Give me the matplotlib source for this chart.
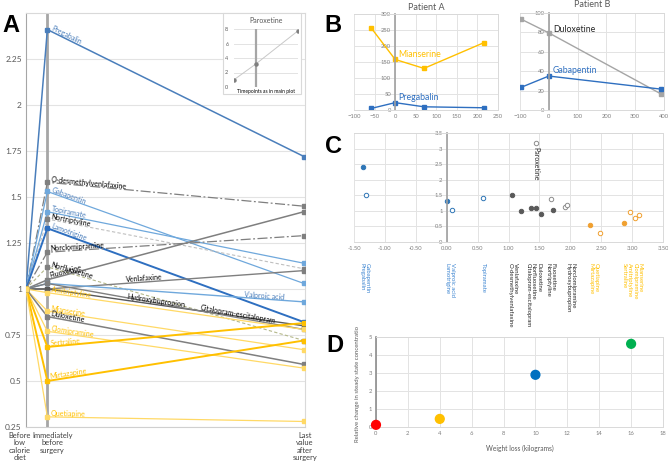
import numpy as np
import matplotlib
matplotlib.use('Agg')
import matplotlib.pyplot as plt
from matplotlib.patches import Rectangle
import matplotlib.transforms as mtransforms

plt.rcParams['font.family'] = ['Lato', 'DejaVu Sans']

W, H = 668, 463
fig = plt.figure(figsize=(W / 100, H / 100), dpi=100)


def add_ax(l, t, r, b, **kw):
    return fig.add_axes([l / W, 1 - b / H, (r - l) / W, (b - t) / H], **kw)


GRID = '#e3e3e3'
FRAME = '#d9d9d9'
TICKC = '#595959'

# ---------------- Panel A data ----------------
timepoints = [0, 1, 13]
timepoint_labels = ['Before\nlow\ncalorie\ndiet', 'Immediately\nbefore\nsurgery',
                    'Last\nvalue\nafter\nsurgery']
drugs = ['Pregabalin', 'O-desmethylvenlafaxine', 'Gabapentin', 'Topiramate', 'Nortriptyline',
         'Lamotrigine', 'Norclomipramine', 'Norfluoxetine', 'Fluoxetine', 'Venlafaxine',
         'Hydroxybupropion', 'Valproic acid', 'Citalopram-escitalopram', 'Amitriptyline',
         'Mianserine', 'Duloxetine', 'Clomipramine', 'Sertraline', 'Mirtazapine', 'Quetiapine']
baseline = [1.0] * len(drugs)
before_surgery = [2.41, 1.58, 1.53, 1.42, 1.38, 1.33, 1.20, 1.12, 1.05, 1.00,
                  1.00, 1.03, 1.03, 0.98, 0.88, 0.85, 0.77, 0.685, 0.50, 0.305]
after_surgery = [1.72, 1.45, 1.03, 1.14, 1.11, 0.82, 1.29, 0.72, 1.42, 1.10,
                 0.80, 0.93, 0.78, 0.78, 0.67, 0.59, 0.57, 0.815, 0.72, 0.28]
paroxetine_values = [1.0, 3.2, 7.75]
paroxetine_x = [0, 1, 2.9]

BLUE = '#4a7ebb'
LBLUE = '#6fa8dc'
DBLUE = '#2e6fc0'
GOLD = '#ffc000'
LGOLD = '#ffd966'
GRAY = '#7f7f7f'
DGRAY = '#595959'
LGRAY = '#bfbfbf'
OLIVE = '#b4b88a'

style = {
    'Pregabalin': dict(color=BLUE, lw=1.1, ls='-', tc=BLUE),
    'O-desmethylvenlafaxine': dict(color=GRAY, lw=0.9, ls=(0, (8, 2, 1.5, 2)), tc='black'),
    'Gabapentin': dict(color=LBLUE, lw=0.9, ls='-', tc=BLUE),
    'Topiramate': dict(color=LBLUE, lw=0.9, ls='-', tc=BLUE),
    'Nortriptyline': dict(color=LGRAY, lw=0.8, ls=(0, (3, 2)), tc='black'),
    'Lamotrigine': dict(color=DBLUE, lw=1.4, ls='-', tc=BLUE),
    'Norclomipramine': dict(color=GRAY, lw=0.9, ls=(0, (8, 2, 1.5, 2)), tc='black'),
    'Norfluoxetine': dict(color=OLIVE, lw=0.8, ls=(0, (3, 2)), tc='black'),
    'Fluoxetine': dict(color=GRAY, lw=1.1, ls='-', tc='black'),
    'Venlafaxine': dict(color=GRAY, lw=1.0, ls='-', tc='black'),
    'Hydroxybupropion': dict(color=DGRAY, lw=1.0, ls='-', tc='black'),
    'Valproic acid': dict(color=LBLUE, lw=1.0, ls='-', tc=BLUE),
    'Citalopram-escitalopram': dict(color=GRAY, lw=1.0, ls='-', tc='black'),
    'Amitriptyline': dict(color=LGOLD, lw=0.9, ls='-', tc=GOLD),
    'Mianserine': dict(color=LGOLD, lw=0.9, ls='-', tc=GOLD),
    'Duloxetine': dict(color=GRAY, lw=1.1, ls='-', tc='black'),
    'Clomipramine': dict(color=LGOLD, lw=0.9, ls='-', tc=GOLD),
    'Sertraline': dict(color=GOLD, lw=1.4, ls='-', tc=GOLD),
    'Mirtazapine': dict(color=GOLD, lw=1.4, ls='-', tc=GOLD),
    'Quetiapine': dict(color=LGOLD, lw=0.9, ls='-', tc=GOLD),
}
label_x = {'Venlafaxine': 4.7, 'Hydroxybupropion': 4.7, 'Citalopram-escitalopram': 8.1,
           'Valproic acid': 10.2}

axA = add_ax(26, 13, 305, 427)
axA.set_xlim(0, 13.05)
axA.set_ylim(0.25, 2.5)
axA.set_yticks([0.25, 0.5, 0.75, 1, 1.25, 1.5, 1.75, 2, 2.25])
axA.set_yticklabels(['0.25', '0.5', '0.75', '1', '1.25', '1.5', '1.75', '2', '2.25'])
axA.set_xticks(timepoints)
axA.set_xticklabels([''] * 3)
axA.tick_params(axis='both', length=0, labelsize=6, colors=TICKC, pad=3)
axA.grid(axis='y', color=GRID, lw=0.8)
axA.set_axisbelow(True)
for s in axA.spines.values():
    s.set_color(FRAME)
    s.set_linewidth(0.8)
axA.spines['left'].set_color('#a6a6a6')
axA.spines['bottom'].set_color('#d0d0d0')
axA.axvline(1, color='#a6a6a6', lw=2.0, zorder=1)

# time-point labels (placed like the reference, slightly shifted from the ticks)
for lab, dx in zip(timepoint_labels, [-6, 5, 1]):
    tr = axA.get_xaxis_transform() + mtransforms.ScaledTranslation(dx / 100, -5 / 100,
                                                                   fig.dpi_scale_trans)
    pass
for t, lab, dx in zip(timepoints, timepoint_labels, [-6, 5, 1]):
    tr = axA.get_xaxis_transform() + mtransforms.ScaledTranslation(dx / 100, -5 / 100,
                                                                   fig.dpi_scale_trans)
    axA.text(t, 0, lab, transform=tr, ha='center', va='top', fontsize=5.4,
             color='#404040', linespacing=1.05)

for i, d in enumerate(drugs):
    st = style[d]
    ys = [baseline[i], before_surgery[i], after_surgery[i]]
    axA.plot(timepoints, ys, color=st['color'], lw=st['lw'], ls=st['ls'], zorder=3)
    axA.plot(timepoints, ys, ls='none', marker='s', ms=2.2,
             color=st['color'] if st['color'] not in (LGRAY, OLIVE) else GRAY, zorder=4)

# labels on lines
for i, d in enumerate(drugs):
    st = style[d]
    x0, y0 = 1, before_surgery[i]
    x1, y1 = 13, after_surgery[i]
    lx = label_x.get(d, 1.15)
    ly = y0 + (y1 - y0) * (lx - x0) / (x1 - x0)
    p0 = axA.transData.transform((x0, y0))
    p1 = axA.transData.transform((x1, y1))
    ang = np.degrees(np.arctan2(p1[1] - p0[1], p1[0] - p0[0]))
    axA.text(lx, ly, d, fontsize=5.1, color=st['tc'], rotation=ang, rotation_mode='anchor',
             ha='left', va='bottom', zorder=5)

# inset (Paroxetine)
fig.patches.append(Rectangle((223 / W, 1 - 94 / H), 78 / W, 81 / H, transform=fig.transFigure,
                             facecolor='white', edgecolor=FRAME, lw=0.8, zorder=1))
axI = add_ax(234, 29, 298, 87, zorder=3)
axI.set_xlim(0, 2.9)
axI.set_ylim(0, 8)
axI.set_yticks([0, 2, 4, 6, 8])
axI.set_xticks([])
axI.tick_params(axis='y', length=0, labelsize=4, colors=TICKC, pad=4)
axI.grid(axis='y', color=GRID, lw=0.7)
for s in axI.spines.values():
    s.set_visible(False)
axI.axvline(1, color='#a6a6a6', lw=1.6)
axI.plot(paroxetine_x, paroxetine_values, color='#c8c8c8', lw=0.7, marker='o', ms=2.2,
         mfc=GRAY, mec=GRAY)
axI.set_title('Paroxetine', fontsize=5, color=TICKC, pad=4)
axI.set_xlabel('Timepoints as in main plot', fontsize=3.6, labelpad=1.5, color='black')

# ---------------- Panel B data ----------------
pa_days = [-58, 0, 70, 215]
pa_mianserine = [256, 158, 130, 210]
pa_pregabalin = [5, 23, 10, 7]
pb_days = [-95, 0, 390]
pb_duloxetine = [93.5, 79.5, 16.5]
pb_gabapentin = [23.5, 35, 21.5]


def style_xy(ax):
    ax.grid(True, color=GRID, lw=0.7)
    ax.set_axisbelow(True)
    for s in ax.spines.values():
        s.set_color(FRAME)
        s.set_linewidth(0.7)
    ax.spines['left'].set_position(('data', 0))
    ax.spines['left'].set_color('#a0a0a0')
    ax.spines['left'].set_linewidth(1.2)
    ax.tick_params(length=0, labelsize=4.2, colors='#7f7f7f', pad=3)


axB1 = add_ax(354, 14, 498, 110)
axB1.set_xlim(-100, 250)
axB1.set_ylim(0, 300)
axB1.set_xticks(np.arange(-100, 251, 50))
axB1.set_yticks(np.arange(0, 301, 50))
style_xy(axB1)
axB1.plot(pa_days, pa_mianserine, color=GOLD, lw=1.0, marker='s', ms=2.5)
axB1.plot(pa_days, pa_pregabalin, color=DBLUE, lw=1.0, marker='s', ms=2.5)
axB1.text(8, 172, 'Mianserine', fontsize=6.3, color=GOLD, va='center')
axB1.text(8, 38, 'Pregabalin', fontsize=6.3, color=DBLUE, va='center')
axB1.set_title('Patient A', fontsize=6.5, color=TICKC, pad=3)

axB2 = add_ax(520, 13, 664, 110)
axB2.set_xlim(-100, 400)
axB2.set_ylim(0, 100)
axB2.set_xticks(np.arange(-100, 401, 100))
axB2.set_yticks(np.arange(0, 101, 20))
style_xy(axB2)
axB2.plot(pb_days, pb_duloxetine, color='#a5a5a5', lw=1.0, marker='s', ms=2.5)
axB2.plot(pb_days, pb_gabapentin, color=DBLUE, lw=1.0, marker='s', ms=2.5)
axB2.text(14, 82.5, 'Duloxetine', fontsize=6.3, color='#262626', va='center')
axB2.text(14, 40.5, 'Gabapentin', fontsize=6.3, color=DBLUE, va='center')
axB2.set_title('Patient B', fontsize=6.5, color=TICKC, pad=4)

# ---------------- Panel C data ----------------
c_x = [-1.35, -1.31, 0.0, 0.09, 0.59, 1.05, 1.20, 1.37, 1.44, 1.52, 1.72,
       1.44, 1.68, 1.91, 1.95, 2.32, 2.87, 2.48, 2.96, 3.05, 3.11]
c_y = [2.41, 1.52, 1.33, 1.03, 1.41, 1.51, 0.98, 1.10, 1.08, 0.90, 1.03,
       3.19, 1.38, 1.12, 1.19, 0.54, 0.62, 0.30, 0.97, 0.76, 0.88]
c_filled = [True, False, True, False, False, True, True, True, True, True, True,
            False, False, False, False, True, True, False, False, False, False]
c_group = ['b', 'b', 'b', 'b', 'b', 'g', 'g', 'g', 'g', 'g', 'g',
           'g', 'g', 'g', 'g', 'o', 'o', 'o', 'o', 'o', 'o']
c_label_x = [-1.33, 0.05, 0.60, 1.07, 1.40, 1.68, 2.0, 2.38, 3.0]
c_labels = ['Gabapentin\nPregabalin', 'Valproic acid\nLamotrigine', 'Topiramate',
            'Venlafaxine\nO-desmethylvenlafaxine',
            'Duloxetine\nNorfluoxetine\nCitalopram-escitalopram', 'Fluoxetine\nNortriptyline',
            'Norclomipramine\nHydroxybupropion', 'Quetiapine\nMirtazapine',
            'Mianserine\nClomipramine\nAmitriptyline\nSertraline']
c_label_group = ['b', 'b', 'b', 'g', 'g', 'g', 'g', 'o', 'o']

gcol = {'b': '#2e75b6', 'g': '#595959', 'o': '#f0a030'}
tcol = {'b': '#3d85d1', 'g': '#262626', 'o': '#ffc000'}

axC = add_ax(354, 133, 663, 242)
axC.set_xlim(-1.5, 3.5)
axC.set_ylim(0, 3.5)
axC.set_xticks(np.arange(-1.5, 3.51, 0.5))
axC.set_xticklabels(['%.2f' % v for v in np.arange(-1.5, 3.51, 0.5)])
axC.set_yticks(np.arange(0, 3.51, 0.5))
axC.set_yticklabels(['0', '0.5', '1', '1.5', '2', '2.5', '3', '3.5'])
style_xy(axC)
for x, y, f, g in zip(c_x, c_y, c_filled, c_group):
    col = gcol[g]
    if g == 'g' and not f:
        col = '#8c8c8c'
    axC.plot([x], [y], ls='none', marker='o', ms=3.2, mec=col,
             mfc=col if f else 'white', mew=0.7)
axC.text(1.44, 3.05, 'Paroxetine', rotation=270, fontsize=5, color='#262626',
         ha='center', va='top')
trC = mtransforms.blended_transform_factory(axC.transData, axC.transAxes)
for x, lab, g in zip(c_label_x, c_labels, c_label_group):
    axC.text(x, -0.19, lab, transform=trC, rotation=270, fontsize=4.3, color=tcol[g],
             ha='center', va='top', multialignment='left', linespacing=1.1)

# ---------------- Panel D data ----------------
d_weight_loss = [0, 4, 10, 16]
d_rel_change = [0.12, 0.45, 2.9, 4.62]
d_colors = ['#ff0000', '#ffc000', '#0070c0', '#00b050']

axD = add_ax(376, 337, 663, 427)
axD.set_xlim(0, 18)
axD.set_ylim(0, 5)
axD.set_xticks(np.arange(0, 19, 2))
axD.set_yticks(np.arange(0, 6, 1))
style_xy(axD)
axD.spines['left'].set_color('#8c8c8c')
axD.scatter(d_weight_loss, d_rel_change, s=40, c=d_colors, zorder=3, clip_on=False)
axD.set_xlabel('Weight loss (kilograms)', fontsize=4.8, color=TICKC, labelpad=6)
fig.text(357 / W, 1 - 384 / H, 'Relative change in steady state concentratio', rotation=90,
         fontsize=4.3, color=TICKC, ha='center', va='center')

# ---------------- Panel letters ----------------
for lab, x, y in [('A', 11, 25), ('B', 333, 25), ('C', 334, 146), ('D', 335, 345)]:
    fig.text(x / W, 1 - y / H, lab, fontsize=17, fontweight='bold', ha='center',
             va='center', family=['Liberation Sans', 'DejaVu Sans'])

fig.savefig('out.png', dpi=100)
